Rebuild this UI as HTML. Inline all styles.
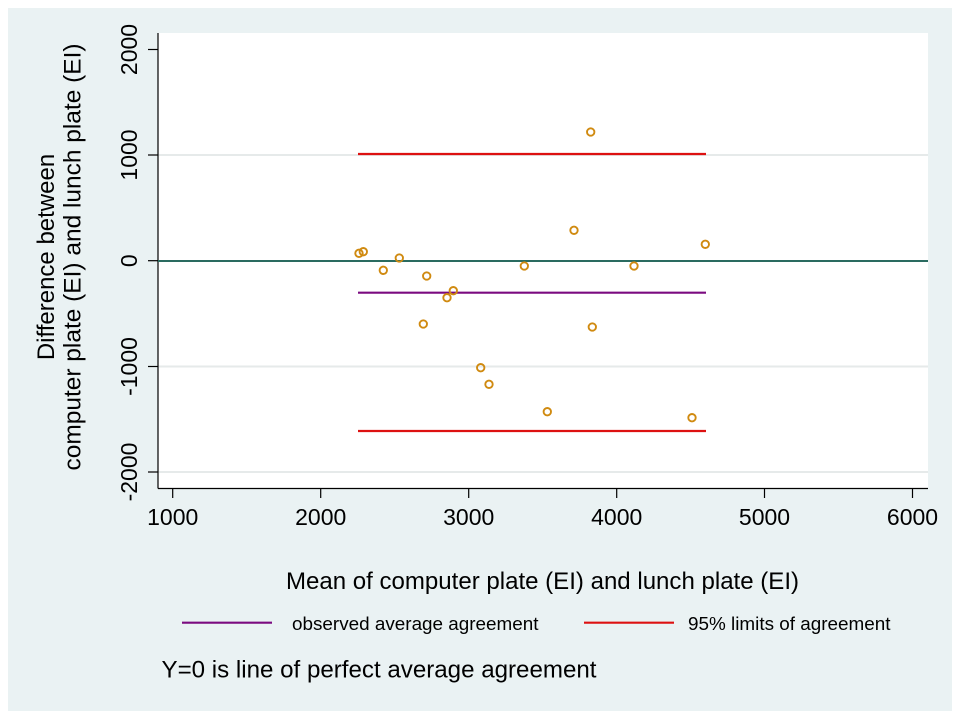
<!DOCTYPE html>
<html><head><meta charset="utf-8"><style>
html,body{margin:0;padding:0;background:#fff;}
svg{display:block;}
text{font-family:"Liberation Sans",Arial,sans-serif;fill:#000;}
</style></head><body>
<svg width="960" height="720" viewBox="0 0 960 720" xmlns="http://www.w3.org/2000/svg">
<rect x="0" y="0" width="960" height="720" fill="#ffffff"/>
<rect x="8" y="8" width="944" height="703" fill="#eaf2f3"/>
<rect x="158" y="33" width="770" height="455" fill="#ffffff"/>
<!-- gridlines -->
<g stroke="#e6eaea" stroke-width="2">
<line x1="158" y1="155" x2="928" y2="155"/>
<line x1="158" y1="366.5" x2="928" y2="366.5"/>
<line x1="158" y1="472" x2="928" y2="472"/>
</g>
<!-- axes -->
<g stroke="#000" stroke-width="1.2">
<line x1="158" y1="33" x2="158" y2="488.5"/>
<line x1="158" y1="488.5" x2="928" y2="488.5"/>
<line x1="148" y1="49.5" x2="158" y2="49.5"/>
<line x1="148" y1="155" x2="158" y2="155"/>
<line x1="148" y1="260.7" x2="158" y2="260.7"/>
<line x1="148" y1="366.5" x2="158" y2="366.5"/>
<line x1="148" y1="472" x2="158" y2="472"/>
<line x1="172.7" y1="488.5" x2="172.7" y2="498"/>
<line x1="320.7" y1="488.5" x2="320.7" y2="498"/>
<line x1="468.7" y1="488.5" x2="468.7" y2="498"/>
<line x1="616.7" y1="488.5" x2="616.7" y2="498"/>
<line x1="764.5" y1="488.5" x2="764.5" y2="498"/>
<line x1="912.5" y1="488.5" x2="912.5" y2="498"/>
</g>
<!-- reference lines -->
<line x1="158" y1="261" x2="928" y2="261" stroke="#2a6b60" stroke-width="2"/>
<line x1="358" y1="154" x2="706" y2="154" stroke="#dd1111" stroke-width="2.2"/>
<line x1="358" y1="431" x2="706" y2="431" stroke="#dd1111" stroke-width="2.2"/>
<line x1="358" y1="292.7" x2="706" y2="292.7" stroke="#7b0b80" stroke-width="2.2"/>
<!-- markers -->
<g fill="none" stroke="#d08a10" stroke-width="1.9">
<circle cx="359" cy="253.3" r="3.7"/>
<circle cx="363.3" cy="251.7" r="3.7"/>
<circle cx="383.3" cy="270.3" r="3.7"/>
<circle cx="399.3" cy="258" r="3.7"/>
<circle cx="426.7" cy="276" r="3.7"/>
<circle cx="453.3" cy="290.7" r="3.7"/>
<circle cx="447" cy="297.7" r="3.7"/>
<circle cx="423.3" cy="324" r="3.7"/>
<circle cx="524.3" cy="266" r="3.7"/>
<circle cx="480.7" cy="367.7" r="3.7"/>
<circle cx="489" cy="384.3" r="3.7"/>
<circle cx="547.3" cy="411.7" r="3.7"/>
<circle cx="574" cy="230.3" r="3.7"/>
<circle cx="590.7" cy="132" r="3.7"/>
<circle cx="592.3" cy="327" r="3.7"/>
<circle cx="634" cy="266" r="3.7"/>
<circle cx="705.3" cy="244.3" r="3.7"/>
<circle cx="692" cy="417.7" r="3.7"/>
</g>
<!-- y tick labels -->
<g font-size="23" text-anchor="middle">
<text transform="translate(137,49.5) rotate(-90)">2000</text>
<text transform="translate(137,155) rotate(-90)">1000</text>
<text transform="translate(137,260.7) rotate(-90)">0</text>
<text transform="translate(137,366.5) rotate(-90)">-1000</text>
<text transform="translate(137,472) rotate(-90)">-2000</text>
</g>
<!-- x tick labels -->
<g font-size="23" text-anchor="middle">
<text x="172.7" y="525">1000</text>
<text x="320.7" y="525">2000</text>
<text x="468.7" y="525">3000</text>
<text x="616.7" y="525">4000</text>
<text x="764.5" y="525">5000</text>
<text x="912.5" y="525">6000</text>
</g>
<!-- y title -->
<g font-size="24" text-anchor="middle">
<text transform="translate(54,257) rotate(-90)">Difference between</text>
<text transform="translate(80.5,257) rotate(-90)" textLength="427" lengthAdjust="spacingAndGlyphs">computer plate (EI) and lunch plate (EI)</text>
</g>
<!-- x title -->
<text x="286" y="589" font-size="24" textLength="513" lengthAdjust="spacingAndGlyphs">Mean of computer plate (EI) and lunch plate (EI)</text>
<!-- legend -->
<line x1="182" y1="622.7" x2="272" y2="622.7" stroke="#7b0b80" stroke-width="2.2"/>
<text x="292" y="630" font-size="18.5" textLength="246.5" lengthAdjust="spacingAndGlyphs">observed average agreement</text>
<line x1="584" y1="622.7" x2="674" y2="622.7" stroke="#dd1111" stroke-width="2.2"/>
<text x="688" y="630" font-size="18.5" textLength="202.5" lengthAdjust="spacingAndGlyphs">95% limits of agreement</text>
<!-- note -->
<text x="161.5" y="677.3" font-size="24" textLength="435" lengthAdjust="spacingAndGlyphs">Y=0 is line of perfect average agreement</text>
</svg>
</body></html>
